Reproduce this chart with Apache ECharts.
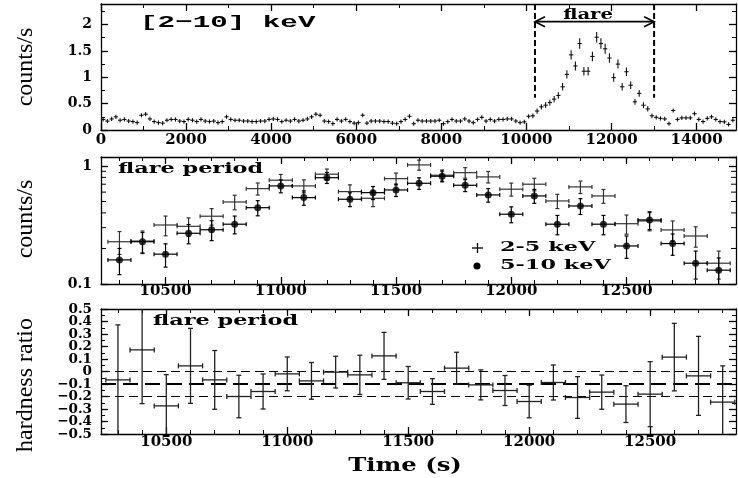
<!DOCTYPE html>
<html><head><meta charset="utf-8">
<script src="https://cdn.jsdelivr.net/npm/echarts@6/dist/echarts.min.js"></script>
<style>html,body{margin:0;padding:0;background:#fff}#c{width:738px;height:478px}</style>
</head><body><div id="c"></div>
<script>
// ---------------- DATA ----------------
// Panel 1: [2-10] keV light curve (bin centres, s)
const lcTime = [
  50,150,250,350,450,550,650,750,850,950,
  1050,1150,1250,1350,1450,1550,1650,1750,1850,1950,
  2050,2150,2250,2350,2450,2550,2650,2750,2850,2950,
  3050,3150,3250,3350,3450,3550,3650,3750,3850,3950,
  4050,4150,4250,4350,4450,4550,4650,4750,4850,4950,
  5050,5150,5250,5350,5450,5550,5650,5750,5850,5950,
  6050,6150,6250,6350,6450,6550,6650,6750,6850,6950,
  7050,7150,7250,7350,7450,7550,7650,7750,7850,7950,
  8050,8150,8250,8350,8450,8550,8650,8750,8850,8950,
  9050,9150,9250,9350,9450,9550,9650,9750,9850,9950,
  10050,10150,10250,10350,10450,10550,10650,10750,10850,10950,
  11050,11150,11250,11350,11450,11550,11650,11750,11850,11950,
  12050,12150,12250,12350,12450,12550,12650,12750,12850,12950,
  13050,13150,13250,13350,13450,13550,13650,13750,13850,13950,
  14050,14150,14250,14350,14450,14550,14650,14750,14850
];
const lcRate = [
  0.20,0.17,0.21,0.25,0.185,0.20,0.17,0.16,0.14,0.28,
  0.30,0.21,0.16,0.14,0.13,0.185,0.20,0.20,0.17,0.16,
  0.20,0.185,0.16,0.20,0.17,0.16,0.17,0.14,0.16,0.25,
  0.20,0.185,0.185,0.17,0.17,0.16,0.16,0.17,0.17,0.20,
  0.21,0.20,0.16,0.185,0.17,0.20,0.17,0.185,0.21,0.25,
  0.30,0.28,0.17,0.16,0.12,0.20,0.17,0.20,0.16,0.13,
  0.14,0.28,0.13,0.17,0.17,0.17,0.16,0.16,0.13,0.12,
  0.16,0.20,0.26,0.12,0.185,0.17,0.17,0.17,0.17,0.185,
  0.12,0.16,0.20,0.17,0.17,0.21,0.17,0.14,0.20,0.24,
  0.17,0.20,0.17,0.20,0.20,0.21,0.21,0.17,0.14,0.155,
  0.26,0.27,0.36,0.44,0.47,0.52,0.585,0.655,0.82,1.055,
  1.425,1.215,1.64,1.115,1.115,1.395,1.76,1.64,1.54,1.365,
  0.995,1.25,0.82,1.105,0.85,0.535,0.695,0.47,0.40,0.27,
  0.24,0.22,0.21,0.12,0.37,0.20,0.23,0.23,0.23,0.31,
  0.20,0.16,0.22,0.25,0.20,0.16,0.155,0.105,0.185
];
const lcErr = [
  0.04,0.04,0.04,0.04,0.04,0.04,0.04,0.04,0.04,0.04,
  0.04,0.04,0.04,0.04,0.04,0.04,0.04,0.04,0.04,0.04,
  0.04,0.04,0.04,0.04,0.04,0.04,0.04,0.04,0.04,0.04,
  0.04,0.04,0.04,0.04,0.04,0.04,0.04,0.04,0.04,0.04,
  0.04,0.04,0.04,0.04,0.04,0.04,0.04,0.04,0.04,0.04,
  0.04,0.04,0.04,0.04,0.04,0.04,0.04,0.04,0.04,0.04,
  0.04,0.04,0.04,0.04,0.04,0.04,0.04,0.04,0.04,0.04,
  0.04,0.04,0.04,0.04,0.04,0.04,0.04,0.04,0.04,0.04,
  0.04,0.04,0.04,0.04,0.04,0.04,0.04,0.04,0.04,0.04,
  0.04,0.04,0.04,0.04,0.04,0.04,0.04,0.04,0.04,0.04,
  0.04,0.045,0.05,0.05,0.055,0.055,0.06,0.06,0.07,0.08,
  0.09,0.085,0.10,0.08,0.08,0.09,0.10,0.10,0.095,0.09,
  0.08,0.085,0.07,0.08,0.07,0.055,0.065,0.055,0.05,0.045,
  0.04,0.04,0.04,0.04,0.04,0.04,0.04,0.04,0.04,0.04,
  0.04,0.04,0.04,0.04,0.04,0.04,0.04,0.04,0.04
];
const lcHalfBin = 50;
const flareStart = 10200, flareEnd = 13000;

// Panel 2: flare period, two bands (log scale)
const flareTime = [10300,10400,10500,10600,10700,10800,10900,11000,11100,11200,11300,11400,11500,11600,
  11700,11800,11900,12000,12100,12200,12300,12400,12500,12600,12700,12800,12900];
const soft = [0.228,0.231,0.316,0.308,0.375,0.495,0.642,0.757,0.677,0.851,0.606,0.532,0.780,1.02,
  0.834,0.877,0.807,0.635,0.700,0.505,0.664,0.557,0.324,0.342,0.287,0.255,0.150];
const softErr = [0.05,0.05,0.06,0.055,0.06,0.07,0.075,0.09,0.085,0.09,0.085,0.08,0.09,0.10,
  0.09,0.09,0.09,0.08,0.085,0.07,0.08,0.075,0.06,0.06,0.055,0.05,0.04];
const hard = [0.160,0.228,0.179,0.269,0.288,0.321,0.443,0.677,0.539,0.795,0.522,0.594,0.626,0.713,
  0.818,0.686,0.568,0.390,0.557,0.321,0.458,0.321,0.210,0.349,0.220,0.150,0.131];
const hardErr = [0.04,0.045,0.04,0.05,0.055,0.055,0.065,0.085,0.075,0.085,0.07,0.075,0.075,0.08,
  0.085,0.08,0.075,0.06,0.075,0.06,0.07,0.06,0.045,0.06,0.045,0.04,0.035];
const flareHalfBin = 50;

// Panel 3: hardness ratio
const hrTime = [10300,10400,10500,10600,10700,10800,10900,11000,11100,11200,11300,11400,11500,
  11600,11700,11800,11900,12000,12100,12200,12300,12400,12500,12600,12700,12800];
const hrVal = [-0.067,0.173,-0.275,0.045,-0.067,-0.20,-0.16,-0.019,-0.075,-0.005,-0.027,0.125,-0.09,
  -0.16,0.027,-0.107,-0.152,-0.24,-0.088,-0.208,-0.165,-0.261,-0.181,0.115,-0.035,-0.245];
const hrErr = [0.44,0.43,0.25,0.30,0.235,0.17,0.14,0.135,0.147,0.127,0.157,0.188,0.13,
  0.103,0.127,0.12,0.12,0.13,0.14,0.167,0.137,0.147,0.26,0.27,0.316,0.29];
const hrRefLines = [0, -0.1, -0.2];

// Tick values / labels
const p1XMajor = [0,2000,4000,6000,8000,10000,12000,14000];
const p1XMinor = [1000,3000,5000,7000,9000,11000,13000];
const p1YMajor = [0,0.5,1,1.5,2];
const p1YMinor = [0.25,0.75,1.25,1.75,2.25];
const fXMajor = [10500,11000,11500,12000,12500];
const p2XMinor = [10300,10400,10600,10700,10800,10900,11100,11200,11300,11400,11600,11700,11800,11900,
  12100,12200,12300,12400,12600,12700,12800,12900];
const p2YMinor = [0.2,0.3,0.4,0.5,0.6,0.7,0.8,0.9];
const p3XMinor = [10300,10400,10600,10700,10800,10900,11100,11200,11300,11400,11600,11700,11800,11900,
  12100,12200,12300,12400,12600,12700,12800];
const p3YMajor = [-0.5,-0.4,-0.3,-0.2,-0.1,0,0.1,0.2,0.3,0.4,0.5];
const p3YMinor = [-0.45,-0.35,-0.25,-0.15,-0.05,0.05,0.15,0.25,0.35,0.45];
const p3YLabelsEven = [-0.4,-0.2,0,0.2,0.4];
const p3YLabelsOdd = [-0.5,-0.3,-0.1,0.1,0.3,0.5];

// ---------------- CHART ----------------
const FONT = 'DejaVu Serif';
const chart = echarts.init(document.getElementById('c'), null, {renderer:'canvas', width:738, height:478});

const grids = [
  {left:101, top:4, width:635, height:126},
  {left:101, top:157, width:635, height:127},
  {left:101, top:309, width:635, height:125}
].map(g => Object.assign({containLabel:false, outerBoundsMode:'none', show:false}, g));

const xAxis = [], yAxis = [];
function fmtNum(v){ const s = String(Math.round(v*100)/100); return s.replace('-', '\u2212'); }

function sideAxes(list, dim, gridIndex, base, majors, minors, labelOpt) {
  const pos = dim === 'x' ? ['bottom','top'] : ['left','right'];
  const first = list.length;
  pos.forEach((p, i) => {
    list.push(Object.assign({}, base, {
      gridIndex, position: p,
      axisLine: {show:true, onZero:false, lineStyle:{color:'#000', width:1.3}},
      axisTick: {show:true, inside:true, length:7, customValues:majors, lineStyle:{color:'#000', width:1.3}},
      axisLabel: i === 0 ? Object.assign({show:true, customValues:majors, color:'#000', fontFamily:FONT,
        fontWeight:'bold', hideOverlap:false, showMinLabel:true, showMaxLabel:true, formatter: fmtNum}, labelOpt) : {show:false},
      splitLine:{show:false}, minorTick:{show:false}
    }));
    if (minors) list.push(Object.assign({}, base, {
      gridIndex, position: p,
      axisLine: {show:false, onZero:false},
      axisTick: {show:true, inside:true, length:4, customValues:minors, lineStyle:{color:'#000', width:1}},
      axisLabel: {show:false}, splitLine:{show:false}, minorTick:{show:false}
    }));
  });
  return first;
}

// panel 1
const x1 = sideAxes(xAxis, 'x', 0, {type:'value', min:0, max:14925}, p1XMajor, p1XMinor, {fontSize:15, margin:3});
const y1 = sideAxes(yAxis, 'y', 0, {type:'value', min:0, max:2.39}, p1YMajor, p1YMinor, {fontSize:14, margin:9});
// panel 2
const x2 = sideAxes(xAxis, 'x', 1, {type:'value', min:10220, max:12975}, fXMajor, p2XMinor, {fontSize:15, margin:0});
const logBase = {type:'log', logBase:10, min:0.1, max:1.19, gridIndex:1,
  axisLine:{show:true, onZero:false, lineStyle:{color:'#000', width:1.3}},
  axisTick:{show:true, inside:true, length:7, lineStyle:{color:'#000', width:1.3}},
  splitLine:{show:false}, minorTick:{show:false}};
const y2 = yAxis.length;
yAxis.push(Object.assign({}, logBase, {position:'left', axisLabel:{show:true, color:'#000', fontFamily:FONT,
  fontWeight:'bold', fontSize:14, margin:9, showMaxLabel:false, showMinLabel:true, hideOverlap:false,
  formatter: v => Math.abs(v-1) < 1e-6 ? '1' : (Math.abs(v-0.1) < 1e-6 ? '0.1' : '')}}));
yAxis.push(Object.assign({}, logBase, {position:'right', axisLabel:{show:false}}));
// panel 3
const x3 = sideAxes(xAxis, 'x', 2, {type:'value', min:10230, max:12855}, fXMajor, p3XMinor, {fontSize:15, margin:1});
const p3LabelStyle = {fontSize:13.5, margin:9};
const y3 = sideAxes(yAxis, 'y', 2, {type:'value', min:-0.5, max:0.5}, p3YMajor, p3YMinor,
  Object.assign({customValues: p3YLabelsEven}, p3LabelStyle));
// second label layer for the alternate hardness-ratio tick labels (avoids auto-hiding of tight labels)
yAxis.push({type:'value', min:-0.5, max:0.5, gridIndex:2, position:'left',
  axisLine:{show:false, onZero:false}, axisTick:{show:false}, splitLine:{show:false},
  axisLabel: Object.assign({show:true, customValues:p3YLabelsOdd, color:'#000', fontFamily:FONT,
    fontWeight:'bold', hideOverlap:false, showMinLabel:true, showMaxLabel:true, formatter: fmtNum}, p3LabelStyle)});

function clampY(y, cs){ return Math.max(cs.y, Math.min(cs.y + cs.height, y)); }
function errCross(halfBin, cap, color, width, isLog) {
  return function (params, api) {
    const cs = params.coordSys;
    const t = api.value(0), v = api.value(1), e = api.value(2);
    const low = isLog ? Math.max(v - e, 1e-6) : v - e;
    const L = api.coord([t - halfBin, v]), R = api.coord([t + halfBin, v]);
    const T = api.coord([t, v + e]), B = api.coord([t, low]);
    const st = () => ({stroke: color, lineWidth: width, fill: null});
    const ty = clampY(T[1], cs), by = clampY(B[1], cs);
    const ch = [
      {type:'line', shape:{x1:L[0], y1:L[1], x2:R[0], y2:R[1]}, style: st()},
      {type:'line', shape:{x1:T[0], y1:ty, x2:B[0], y2:by}, style: st()}
    ];
    if (cap > 0) {
      ch.push({type:'line', shape:{x1:L[0], y1:L[1]-cap, x2:L[0], y2:L[1]+cap}, style: st()});
      ch.push({type:'line', shape:{x1:R[0], y1:R[1]-cap, x2:R[0], y2:R[1]+cap}, style: st()});
      if (ty === T[1]) ch.push({type:'line', shape:{x1:T[0]-cap, y1:ty, x2:T[0]+cap, y2:ty}, style: st()});
      if (by === B[1]) ch.push({type:'line', shape:{x1:B[0]-cap, y1:by, x2:B[0]+cap, y2:by}, style: st()});
    }
    return {type:'group', children: ch};
  };
}

const series = [
  { name:'[2-10] keV', type:'custom', xAxisIndex:x1, yAxisIndex:y1, clip:true,
    data: lcTime.map((t,i) => [t, lcRate[i], lcErr[i]]),
    renderItem: errCross(lcHalfBin, 0, '#111', 1.1, false), silent:true },
  { name:'flare window', type:'custom', xAxisIndex:x1, yAxisIndex:y1,
    data: [[flareStart, flareEnd]], silent:true,
    renderItem: function (params, api) {
      const cs = params.coordSys;
      const a = api.coord([api.value(0), 0.61]), b = api.coord([api.value(1), 0.61]);
      const ay = api.coord([api.value(0), 2.055])[1];
      const dash = {stroke:'#000', lineWidth:2, lineDash:[6,3], fill:null};
      const sol = () => ({stroke:'#000', lineWidth:1.6, fill:null});
      return {type:'group', children:[
        {type:'line', shape:{x1:a[0], y1:cs.y, x2:a[0], y2:a[1]}, style: Object.assign({}, dash)},
        {type:'line', shape:{x1:b[0], y1:cs.y, x2:b[0], y2:b[1]}, style: Object.assign({}, dash)},
        {type:'line', shape:{x1:a[0], y1:ay, x2:b[0], y2:ay}, style: sol()},
        {type:'polyline', shape:{points:[[a[0]+10, ay-5],[a[0], ay],[a[0]+10, ay+5]]}, style: sol()},
        {type:'polyline', shape:{points:[[b[0]-10, ay-5],[b[0], ay],[b[0]-10, ay+5]]}, style: sol()}
      ]};
    } },
  { name:'2-5 keV', type:'custom', xAxisIndex:x2, yAxisIndex:y2, clip:true,
    data: flareTime.map((t,i) => [t, soft[i], softErr[i]]),
    renderItem: errCross(flareHalfBin, 2, '#333', 1.2, true), silent:true },
  { name:'5-10 keV err', type:'custom', xAxisIndex:x2, yAxisIndex:y2, clip:true,
    data: flareTime.map((t,i) => [t, hard[i], hardErr[i]]),
    renderItem: errCross(flareHalfBin, 2, '#000', 1.2, true), silent:true },
  { name:'5-10 keV', type:'scatter', xAxisIndex:x2, yAxisIndex:y2, symbol:'circle', symbolSize:7,
    itemStyle:{color:'#000'}, data: flareTime.map((t,i) => [t, hard[i]]), silent:true },
  { name:'log minor ticks', type:'custom', xAxisIndex:x2, yAxisIndex:y2, silent:true,
    data: p2YMinor.map(v => [10500, v]),
    renderItem: function (params, api) {
      const cs = params.coordSys;
      const y = api.coord([api.value(0), api.value(1)])[1];
      const st = () => ({stroke:'#000', lineWidth:1, fill:null});
      return {type:'group', children:[
        {type:'line', shape:{x1:cs.x, y1:y, x2:cs.x+5, y2:y}, style: st()},
        {type:'line', shape:{x1:cs.x+cs.width-5, y1:y, x2:cs.x+cs.width, y2:y}, style: st()}
      ]};
    } },
  { name:'reference levels', type:'custom', xAxisIndex:x3, yAxisIndex:y3, silent:true,
    data: hrRefLines.map(v => [10500, v]),
    renderItem: function (params, api) {
      const cs = params.coordSys;
      const y = api.coord([api.value(0), api.value(1)])[1];
      const thick = params.dataIndex === 1;
      return {type:'line', shape:{x1:cs.x, y1:y, x2:cs.x+cs.width, y2:y},
        style:{stroke:'#000', lineWidth: thick ? 2 : 1.2, lineDash: thick ? [15,7] : [9,5], fill:null}};
    } },
  { name:'hardness ratio', type:'custom', xAxisIndex:x3, yAxisIndex:y3, clip:true,
    data: hrTime.map((t,i) => [t, hrVal[i], hrErr[i]]),
    renderItem: errCross(flareHalfBin, 2.5, '#222', 1.3, false), silent:true }
];

function txt(text, x, y, o) {
  return Object.assign({type:'text', x, y, silent:true, z:100,
    style: Object.assign({text, fill:'#000', textAlign:'left', textVerticalAlign:'middle',
      align:'left', verticalAlign:'middle', fontFamily:FONT, fontWeight:'bold', fontSize:15}, o.style || {})},
    o.el || {});
}
const centerStyle = {textAlign:'center', align:'center'};
const titleStyle = Object.assign({fontFamily:'Liberation Serif', fontWeight:'normal', fontSize:24}, centerStyle);
const graphicEls = [
  txt('counts/s', 26, 67, {style: titleStyle, el:{rotation: Math.PI/2}}),
  txt('counts/s', 26, 219, {style: titleStyle, el:{rotation: Math.PI/2}}),
  txt('hardness ratio', 26, 385, {style: titleStyle, el:{rotation: Math.PI/2}}),
  txt('[2\u221210] keV', 140, 23, {style:{fontFamily:'Liberation Mono', fontSize:17}, el:{scaleX:1.72}}),
  txt('flare', 588, 15, {style: Object.assign({fontSize:14}, centerStyle), el:{scaleX:1.4}}),
  txt('flare period', 118, 169, {style:{fontSize:15}, el:{scaleX:1.49}}),
  txt('flare period', 153, 321, {style:{fontSize:15}, el:{scaleX:1.49}}),
  {type:'line', silent:true, shape:{x1:472, y1:248, x2:483, y2:248}, style:{stroke:'#000', lineWidth:1.3}},
  {type:'line', silent:true, shape:{x1:477.5, y1:243, x2:477.5, y2:253}, style:{stroke:'#000', lineWidth:1.3}},
  {type:'circle', silent:true, shape:{cx:477, cy:266, r:3.5}, style:{fill:'#000'}},
  txt('2-5 keV', 500, 248, {style:{fontSize:13}, el:{scaleX:1.72}}),
  txt('5-10 keV', 500, 266, {style:{fontSize:13}, el:{scaleX:1.72}}),
  txt('Time (s)', 405, 466, {style: Object.assign({fontSize:19}, centerStyle), el:{scaleX:1.28}})
];

chart.setOption({
  animation:false,
  backgroundColor:'#fff',
  grid: grids,
  xAxis, yAxis, series,
  graphic: {elements: graphicEls}
});
</script></body></html>
